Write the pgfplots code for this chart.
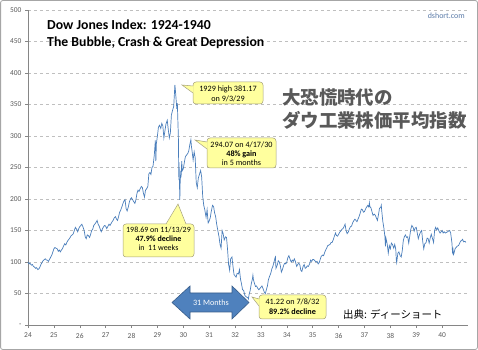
\documentclass[border=0pt]{standalone}
\usepackage{pgfplots}
\pgfplotsset{compat=1.18}
\usepackage{fontspec}
\setmainfont{Carlito}
\newfontfamily\cjk{Noto Sans CJK JP}
\definecolor{lineblue}{HTML}{4A7EBB}
\definecolor{axisgray}{HTML}{868686}
\definecolor{labgray}{HTML}{595959}
\definecolor{gridgray}{HTML}{BFBFBF}
\definecolor{callfill}{HTML}{FFFF9E}
\definecolor{calldraw}{HTML}{A6A27A}
\definecolor{arrfill}{HTML}{4F81BD}
\definecolor{arrdraw}{HTML}{385D8A}
\definecolor{dshort}{HTML}{5B7BA8}
\definecolor{jpgray}{HTML}{595959}
\definecolor{framegray}{HTML}{A6A6A6}
\pgfplotstableread{
x y
1924.00 100
1924.04 97
1924.08 98
1924.13 95
1924.17 96
1924.21 93
1924.25 92
1924.29 90
1924.33 91
1924.38 88
1924.42 89
1924.46 92
1924.50 96
1924.54 99
1924.58 102
1924.63 104
1924.67 105
1924.71 103
1924.75 103
1924.79 101
1924.83 104
1924.88 108
1924.92 111
1924.96 116
1925.00 121
1925.04 123
1925.08 122
1925.13 121
1925.17 117
1925.21 119
1925.25 116
1925.29 119
1925.33 121
1925.38 126
1925.42 129
1925.46 127
1925.50 131
1925.54 134
1925.58 136
1925.63 139
1925.67 142
1925.71 143
1925.75 145
1925.79 150
1925.83 155
1925.88 152
1925.92 148
1925.96 153
1926.00 156
1926.04 158
1926.08 160
1926.13 155
1926.17 150
1926.21 140
1926.25 137
1926.29 143
1926.33 142
1926.38 139
1926.42 144
1926.46 150
1926.50 152
1926.54 158
1926.58 160
1926.63 163
1926.67 166
1926.71 160
1926.75 157
1926.79 152
1926.83 148
1926.88 153
1926.92 156
1926.96 158
1927.00 157
1927.04 153
1927.08 156
1927.13 160
1927.17 158
1927.21 161
1927.25 164
1927.29 166
1927.33 170
1927.38 172
1927.42 168
1927.46 166
1927.50 172
1927.54 179
1927.58 182
1927.63 188
1927.67 193
1927.71 197
1927.75 199
1927.79 185
1927.83 181
1927.88 188
1927.92 196
1927.96 200
1928.00 202
1928.04 199
1928.08 196
1928.13 193
1928.17 199
1928.21 209
1928.25 214
1928.29 212
1928.33 216
1928.38 220
1928.42 218
1928.46 209
1928.50 203
1928.54 214
1928.58 216
1928.63 220
1928.67 240
1928.71 242
1928.75 239
1928.79 250
1928.83 252
1928.88 270
1928.92 293
1928.94 260
1928.96 288
1929.00 300
1929.04 314
1929.08 317
1929.13 312
1929.17 320
1929.21 316
1929.25 297
1929.29 308
1929.33 319
1929.38 325
1929.42 310
1929.46 297
1929.50 305
1929.54 333
1929.58 340
1929.63 347
1929.667 375
1929.675 381.17
1929.70 370
1929.75 343
1929.77 352
1929.79 325
1929.81 299
1929.82 260
1929.83 230
1929.835 258
1929.85 229
1929.866 198.69
1929.88 228
1929.90 241
1929.917 238
1929.94 260
1929.96 245
1930.00 248
1930.04 258
1930.08 267
1930.13 270
1930.17 272
1930.21 276
1930.25 286
1930.293 294.07
1930.31 285
1930.33 279
1930.38 262
1930.42 275
1930.46 265
1930.50 226
1930.54 218
1930.58 233
1930.63 240
1930.67 245
1930.71 235
1930.75 204
1930.79 190
1930.83 183
1930.88 171
1930.92 183
1930.96 162
1931.00 165
1931.04 170
1931.08 180
1931.13 190
1931.17 188
1931.21 178
1931.25 172
1931.29 160
1931.33 151
1931.38 140
1931.42 128
1931.46 122
1931.50 150
1931.54 145
1931.58 135
1931.63 140
1931.67 139
1931.71 120
1931.75 96
1931.79 87
1931.83 105
1931.88 108
1931.92 93
1931.96 80
1932.00 78
1932.04 76
1932.08 82
1932.13 81
1932.17 88
1932.21 73
1932.25 65
1932.29 56
1932.33 55
1932.38 47
1932.42 45
1932.46 44
1932.50 43
1932.516 41.22
1932.54 48
1932.58 54
1932.63 66
1932.67 73
1932.69 79
1932.71 72
1932.75 66
1932.79 61
1932.83 62
1932.88 58
1932.92 56
1932.96 58
1933.00 60
1933.04 62
1933.08 58
1933.13 52
1933.17 50
1933.21 56
1933.25 62
1933.29 72
1933.33 77
1933.38 82
1933.42 89
1933.46 93
1933.50 99
1933.54 106
1933.56 108
1933.58 90
1933.63 95
1933.67 102
1933.71 100
1933.75 94
1933.79 84
1933.83 88
1933.88 95
1933.92 98
1933.96 97
1934.00 100
1934.04 107
1934.08 110
1934.13 104
1934.17 100
1934.21 103
1934.25 101
1934.29 105
1934.33 101
1934.38 93
1934.42 96
1934.46 98
1934.50 96
1934.54 87
1934.58 85
1934.63 93
1934.67 96
1934.71 90
1934.75 91
1934.79 94
1934.83 93
1934.88 97
1934.92 103
1934.96 101
1935.00 104
1935.04 104
1935.08 102
1935.13 100
1935.17 101
1935.21 97
1935.25 99
1935.29 104
1935.33 109
1935.38 111
1935.42 110
1935.46 115
1935.50 119
1935.54 122
1935.58 126
1935.63 127
1935.67 128
1935.71 131
1935.75 131
1935.79 135
1935.83 140
1935.88 146
1935.92 142
1935.96 141
1936.00 144
1936.04 147
1936.08 149
1936.13 152
1936.17 153
1936.21 156
1936.25 160
1936.29 150
1936.33 145
1936.38 148
1936.42 153
1936.46 156
1936.50 157
1936.54 162
1936.58 165
1936.63 168
1936.67 166
1936.71 164
1936.75 168
1936.79 172
1936.83 177
1936.88 184
1936.92 183
1936.96 179
1937.00 180
1937.04 184
1937.08 187
1937.13 190
1937.17 187
1937.19 194
1937.21 188
1937.25 186
1937.29 180
1937.33 174
1937.38 176
1937.42 174
1937.46 170
1937.50 166
1937.54 175
1937.58 185
1937.63 187
1937.65 190
1937.67 180
1937.71 164
1937.75 154
1937.79 140
1937.81 125
1937.83 138
1937.88 128
1937.92 114
1937.96 126
1938.00 121
1938.04 130
1938.08 128
1938.13 122
1938.17 128
1938.21 120
1938.23 103
1938.245 99
1938.29 114
1938.33 116
1938.38 110
1938.42 108
1938.46 118
1938.50 134
1938.54 140
1938.58 143
1938.63 139
1938.67 140
1938.71 130
1938.75 141
1938.79 152
1938.83 158
1938.88 155
1938.92 149
1938.96 154
1939.00 155
1939.04 146
1939.08 137
1939.13 144
1939.17 148
1939.21 150
1939.25 133
1939.29 121
1939.33 129
1939.38 131
1939.42 138
1939.46 137
1939.50 130
1939.54 138
1939.58 144
1939.63 137
1939.67 131
1939.71 150
1939.75 155
1939.79 151
1939.83 154
1939.88 149
1939.92 146
1939.96 148
1940.00 150
1940.04 146
1940.08 148
1940.13 146
1940.17 147
1940.21 148
1940.25 149
1940.29 150
1940.33 146
1940.38 130
1940.40 116
1940.42 120
1940.44 112
1940.46 114
1940.50 121
1940.54 123
1940.58 125
1940.63 126
1940.67 129
1940.71 133
1940.75 134
1940.79 136
1940.83 132
1940.88 133
1940.92 131
}\djia
\begin{document}
\begin{tikzpicture}
\path[use as bounding box] (0,0) rectangle (478bp,350bp);
\draw[framegray, line width=0.8bp, rounded corners=2bp] (0.6bp,0.6bp) rectangle (477.4bp,349.4bp);
\begin{axis}[
  at={(28bp,25bp)}, anchor=south west,
  scale only axis, width=440bp, height=315bp,
  xmin=1924, xmax=1941, ymin=0, ymax=500,
  axis x line*=bottom, axis y line*=left,
  axis line style={-, draw=axisgray, line width=0.6bp},
  xtick={1924,1925,...,1940},
  xticklabels={24,25,26,27,28,29,30,31,32,33,34,35,36,37,38,39,40},
  ytick={0,50,...,500},
  yticklabels={-,50,100,150,200,250,300,350,400,450,500},
  tick align=outside, major tick length=3bp,
  tick style={draw=axisgray, line width=0.5bp},
  ymajorgrids, grid style={dashed, draw=gridgray, line width=0.5bp},
  tick label style={font=\fontsize{7.5}{8}\selectfont, text=labgray},
  xticklabel style={yshift=-1.5bp},
  /pgf/number format/assume math mode=true,
  clip=false,
]
\addplot[color=lineblue, line width=0.7bp, no marks] table[x=x, y=y] {\djia};
\end{axis}
\begin{scope}[x=1bp, y=1bp]
% titles
\node[anchor=base west, inner sep=0, font=\bfseries\fontsize{13.8}{15}\selectfont] at (47,320.5) {Dow Jones Index: 1924-1940};
\node[anchor=base west, inner sep=0, font=\bfseries\fontsize{13.8}{15}\selectfont] at (47,304) {The Bubble, Crash \& Great Depression};
\node[anchor=base east, inner sep=0, text=dshort, font=\fontsize{8}{9}\selectfont] at (465,331.5) {dshort.com};
% Japanese
\node[anchor=base west, inner sep=0, text=jpgray, font=\cjk\bfseries\fontsize{18.5}{20}\selectfont] at (282,246) {大恐慌時代の};
\node[anchor=base west, inner sep=0, text=jpgray, font=\cjk\bfseries\fontsize{18.5}{20}\selectfont] at (282,223) {ダウ工業株価平均指数};
\node[anchor=base west, inner sep=0, font=\cjk\fontsize{10.5}{12}\selectfont] at (343,32) {出典: ディーショート};
% callout 1
\filldraw[fill=callfill, draw=calldraw, line width=0.5bp, rounded corners=3bp] (193,268) rectangle (263,246);
\fill[callfill] (182,265) -- (193.6,264) -- (193.6,257) -- cycle;
\draw[calldraw, line width=0.5bp] (193,264) -- (182,265) -- (193,257);
\node[anchor=base, inner sep=0, font=\fontsize{8.2}{9}\selectfont] at (228,258.5) {1929 high 381.17};
\node[anchor=base, inner sep=0, font=\fontsize{8.2}{9}\selectfont] at (228,248.5) {on 9/3/29};
% callout 2
\filldraw[fill=callfill, draw=calldraw, line width=0.5bp, rounded corners=3bp] (207,212) rectangle (276,182);
\fill[callfill] (195,210) -- (207.6,208) -- (207.6,201) -- cycle;
\draw[calldraw, line width=0.5bp] (207,208) -- (195,210) -- (207,201);
\node[anchor=base, inner sep=0, font=\fontsize{8.2}{9}\selectfont] at (241.5,202.5) {294.07 on 4/17/30};
\node[anchor=base, inner sep=0, font=\bfseries\fontsize{8.2}{9}\selectfont] at (241.5,193.5) {48\% gain};
\node[anchor=base, inner sep=0, font=\fontsize{8.2}{9}\selectfont] at (241.5,184.5) {in 5 months};
% callout 3
\filldraw[fill=callfill, draw=calldraw, line width=0.5bp, rounded corners=3bp] (123,126) rectangle (194,93);
\fill[callfill] (178,146) -- (166,125.4) -- (186,125.4) -- cycle;
\draw[calldraw, line width=0.5bp] (166,126) -- (178,146) -- (186,126);
\node[anchor=base, inner sep=0, font=\fontsize{8}{9}\selectfont] at (158.5,118) {198.69 on 11/13/29};
\node[anchor=base, inner sep=0, font=\bfseries\fontsize{8}{9}\selectfont] at (158.5,108.5) {47.9\% decline};
\node[anchor=base, inner sep=0, font=\fontsize{8}{9}\selectfont] at (158.5,99.5) {in\ \ 11 weeks};
% callout 4
\filldraw[fill=callfill, draw=calldraw, line width=0.5bp, rounded corners=3bp] (259,55) rectangle (326,31);
\fill[callfill] (252,53) -- (259.6,51) -- (259.6,44) -- cycle;
\draw[calldraw, line width=0.5bp] (259,51) -- (252,53) -- (259,44);
\node[anchor=base, inner sep=0, font=\fontsize{8.2}{9}\selectfont] at (292.5,45.5) {41.22 on 7/8/32};
\node[anchor=base, inner sep=0, font=\bfseries\fontsize{8.2}{9}\selectfont] at (292.5,35.5) {89.2\% decline};
% arrow
\filldraw[fill=arrfill, draw=arrdraw, line width=0.6bp] (172,47.5) -- (190,64) -- (190,57) -- (232,57) -- (232,64) -- (249,47.5) -- (232,31) -- (232,38) -- (190,38) -- (190,31) -- cycle;
\node[text=white, inner sep=0, font=\fontsize{8.2}{9}\selectfont] at (211,47.5) {31 Months};
\end{scope}
\end{tikzpicture}
\end{document}
